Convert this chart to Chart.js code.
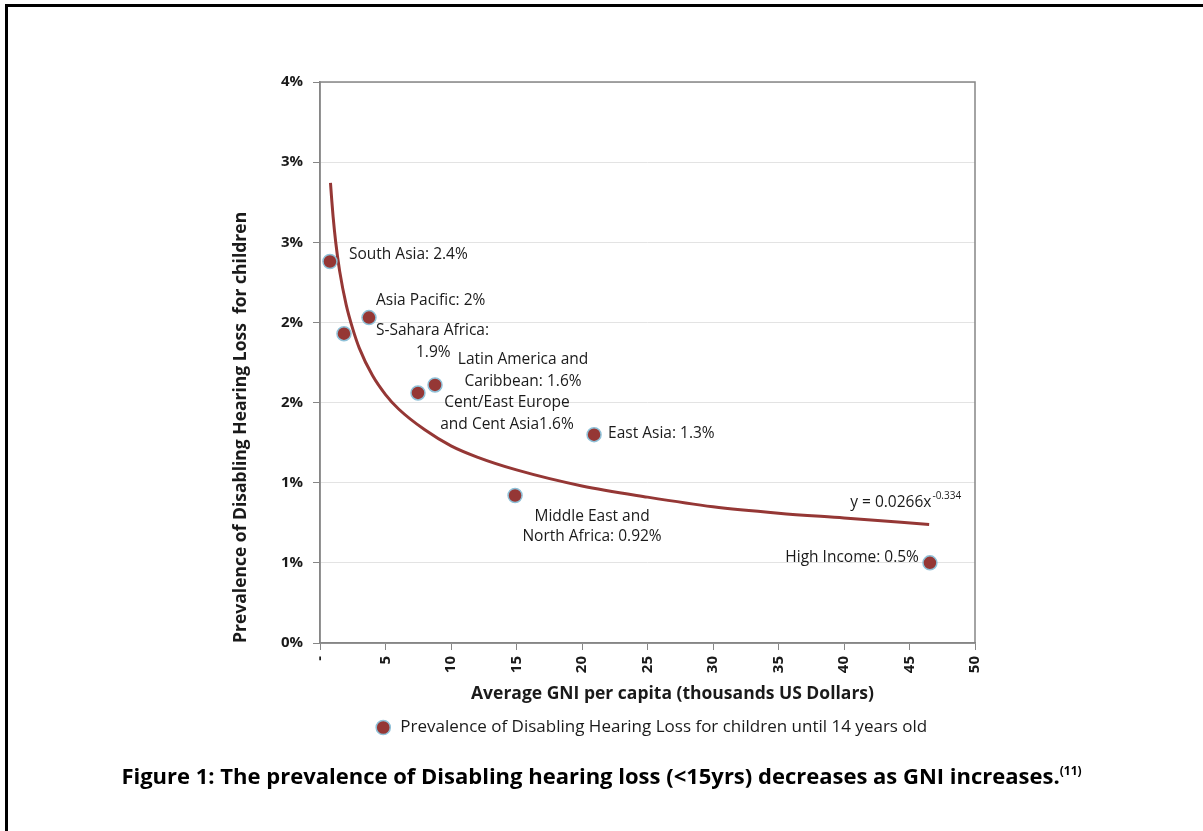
<!DOCTYPE html>
<html>
<head>
<meta charset="utf-8">
<script src="https://cdn.jsdelivr.net/npm/chart.js@4.4.1/dist/chart.umd.min.js"></script>
<style>
  html, body { margin: 0; padding: 0; background: #fff; }
  #wrap { position: relative; width: 1203px; height: 831px; overflow: hidden; }
  #frame { position: absolute; left: 5px; top: 4px; width: 1300px; height: 1000px;
           border-left: 3px solid #000; border-top: 3px solid #000; box-sizing: border-box; }
  #cv { position: absolute; left: 0; top: 0; }
  #caption { position: absolute; left: 0; top: 760px; width: 1203px; text-align: center;
             font-family: "Open Sans", sans-serif; font-weight: bold; font-size: 22px; color: #000; }
  #caption sup { font-size: 12px; vertical-align: 9px; line-height: 0; }
</style>
</head>
<body>
<div id="wrap">
  <div id="frame"></div>
  <canvas id="cv" width="1203" height="831"></canvas>
  <div id="caption">Figure 1: The prevalence of Disabling hearing loss (&lt;15yrs) decreases as GNI increases.<sup>(11)</sup></div>
</div>
<script>
// ---- data ----
const regions = ["South Asia", "S-Sahara Africa", "Asia Pacific", "Cent/East Europe and Cent Asia",
                 "Latin America and Caribbean", "Middle East and North Africa", "East Asia", "High Income"];
const gniThousands = [0.76, 1.83, 3.74, 7.48, 8.78, 14.89, 20.92, 46.56];
const prevalencePct = [2.38, 1.93, 2.03, 1.56, 1.61, 0.92, 1.30, 0.50];
const pointLabels = [
  ["South Asia: 2.4%"],
  ["S-Sahara Africa:", "1.9%"],
  ["Asia Pacific: 2%"],
  ["Cent/East Europe", "and Cent Asia1.6%"],
  ["Latin America and", "Caribbean: 1.6%"],
  ["Middle East and", "North Africa: 0.92%"],
  ["East Asia: 1.3%"],
  ["High Income: 0.5%"]
];
// trend line (power fit) points
const trendX = [0.8, 0.9, 1, 1.2, 1.5, 2, 2.5, 3, 4, 5, 6, 8, 10, 12, 15, 20, 25, 30, 35, 40, 46.5];
const trendY = [2.87, 2.76, 2.66, 2.50, 2.32, 2.11, 1.96, 1.84, 1.67, 1.55, 1.46, 1.33, 1.23, 1.16, 1.08, 0.98, 0.91, 0.85, 0.81, 0.78, 0.74];
const trendEquation = "y = 0.0266x";
const trendExponent = "-0.334";
const xTickLabels = ["-", "5", "10", "15", "20", "25", "30", "35", "40", "45", "50"];
const yTickLabels = ["0%", "1%", "1%", "2%", "2%", "3%", "3%", "4%"];
const xTitle = "Average GNI per capita (thousands US Dollars)";
const yTitle = "Prevalence of Disabling Hearing Loss  for children";
const legendText = "Prevalence of Disabling Hearing Loss for children until 14 years old";

// ---- label placement (pixel offsets from each point, per line) ----
const labelLayout = [
  [{dx: 19, dy: -7, a: "left"}],
  [{dx: 32, dy: -3, a: "left"}, {dx: 72, dy: 19, a: "left"}],
  [{dx: 7, dy: -17, a: "left"}],
  [{dx: 89, dy: 10, a: "center"}, {dx: 89, dy: 32, a: "center"}],
  [{dx: 88, dy: -25, a: "center"}, {dx: 88, dy: -3, a: "center"}],
  [{dx: 77, dy: 21, a: "center"}, {dx: 77, dy: 41, a: "center"}],
  [{dx: 14, dy: -1, a: "left"}],
  [{dx: -11, dy: -5, a: "right"}]
];

const RED = "#953735";
const PT_BORDER = "#8fc1d8";
const AXIS = "#868686";
const GRID = "#e3e3e3";
const TXT = "#1a1a1a";
const FAM = "'Open Sans', sans-serif";
const LABEL_FONT = "15.5px " + FAM;

const labelPlugin = {
  id: "pointLabels",
  afterLayout(chart) {
    // legend sits centred under the plot, slightly right as in the original
    if (chart.legend) { chart.legend.left += 48; chart.legend.right += 48; }
  },
  afterDatasetsDraw(chart) {
    const ctx = chart.ctx;
    const a = chart.chartArea;
    const meta = chart.getDatasetMeta(0);
    ctx.save();
    ctx.font = LABEL_FONT;
    ctx.fillStyle = TXT;
    ctx.textBaseline = "middle";
    meta.data.forEach((pt, i) => {
      pointLabels[i].forEach((line, j) => {
        const L = labelLayout[i][j];
        ctx.textAlign = L.a;
        ctx.fillText(line, pt.x + L.dx, pt.y + L.dy);
      });
    });
    // trend equation near the end of the trend line
    const tmeta = chart.getDatasetMeta(1);
    const last = tmeta.data[tmeta.data.length - 1];
    ctx.font = "10px " + FAM;
    const supW = ctx.measureText(trendExponent).width;
    const rightX = last.x + 32;
    ctx.textAlign = "right";
    ctx.fillText(trendExponent, rightX, last.y - 28);
    ctx.font = LABEL_FONT;
    ctx.fillText(trendEquation, rightX - supW - 1, last.y - 22);
    // x axis title
    ctx.font = "bold 17.5px " + FAM;
    ctx.textAlign = "center";
    ctx.fillText(xTitle, (a.left + a.right) / 2 + 25, a.bottom + 51);
    ctx.restore();
  }
};

const frameBorder = {
  id: "plotFrame",
  afterDraw(chart) {
    const a = chart.chartArea, ctx = chart.ctx;
    ctx.save();
    ctx.strokeStyle = AXIS;
    ctx.lineWidth = 1.5;
    ctx.strokeRect(a.left, a.top, a.right - a.left, a.bottom - a.top);
    ctx.restore();
  }
};

new Chart(document.getElementById("cv"), {
  type: "scatter",
  data: {
    datasets: [
      {
        label: legendText,
        data: gniThousands.map((x, i) => ({x: x, y: prevalencePct[i]})),
        backgroundColor: RED,
        borderColor: PT_BORDER,
        borderWidth: 1.5,
        pointRadius: 7,
        pointHoverRadius: 7,
        order: 0
      },
      {
        label: "trend",
        type: "line",
        data: trendX.map((x, i) => ({x: x, y: trendY[i]})),
        borderColor: RED,
        borderWidth: 3,
        pointRadius: 0,
        fill: false,
        cubicInterpolationMode: "monotone",
        order: 1
      }
    ]
  },
  options: {
    responsive: false,
    animation: false,
    layout: { padding: { top: 82, right: 228, left: 231, bottom: 85 } },
    plugins: {
      tooltip: { enabled: false },
      legend: {
        position: "bottom",
        labels: {
          filter: (item) => item.datasetIndex === 0,
          usePointStyle: true,
          pointStyle: "circle",
          boxHeight: 10,
          color: TXT,
          font: { family: FAM, size: 17 },
          padding: 10
        }
      }
    },
    scales: {
      x: {
        type: "linear",
        min: 0, max: 50,
        afterBuildTicks: (s) => { s.ticks = xTickLabels.map((t, i) => ({value: i * 5})); },
        afterFit: (s) => { s.height = 66; },
        ticks: {
          autoSkip: false,
          maxRotation: 90, minRotation: 90,
          padding: 6,
          color: TXT,
          font: { family: FAM, size: 15, weight: "bold" },
          callback: (v, i) => xTickLabels[i]
        },
        grid: { drawOnChartArea: false, drawTicks: true, tickLength: 7, tickColor: AXIS, color: AXIS },
        border: { color: AXIS, width: 1.5 }
      },
      y: {
        type: "linear",
        min: 0, max: 3.5,
        afterBuildTicks: (s) => { s.ticks = yTickLabels.map((t, i) => ({value: i * 0.5})); },
        afterFit: (s) => { s.width = 89; },
        ticks: {
          padding: 10,
          color: TXT,
          font: { family: FAM, size: 15, weight: "bold" },
          callback: (v, i) => yTickLabels[i]
        },
        grid: { color: GRID, lineWidth: 1, drawTicks: true, tickLength: 7, tickColor: AXIS },
        border: { color: AXIS, width: 1.5 },
        title: {
          display: true, text: yTitle, color: TXT, align: "start",
          font: { family: FAM, size: 17.5, weight: "bold" },
          padding: { top: 0, bottom: 0 }
        }
      }
    }
  },
  plugins: [labelPlugin, frameBorder]
});
</script>
</body>
</html>
